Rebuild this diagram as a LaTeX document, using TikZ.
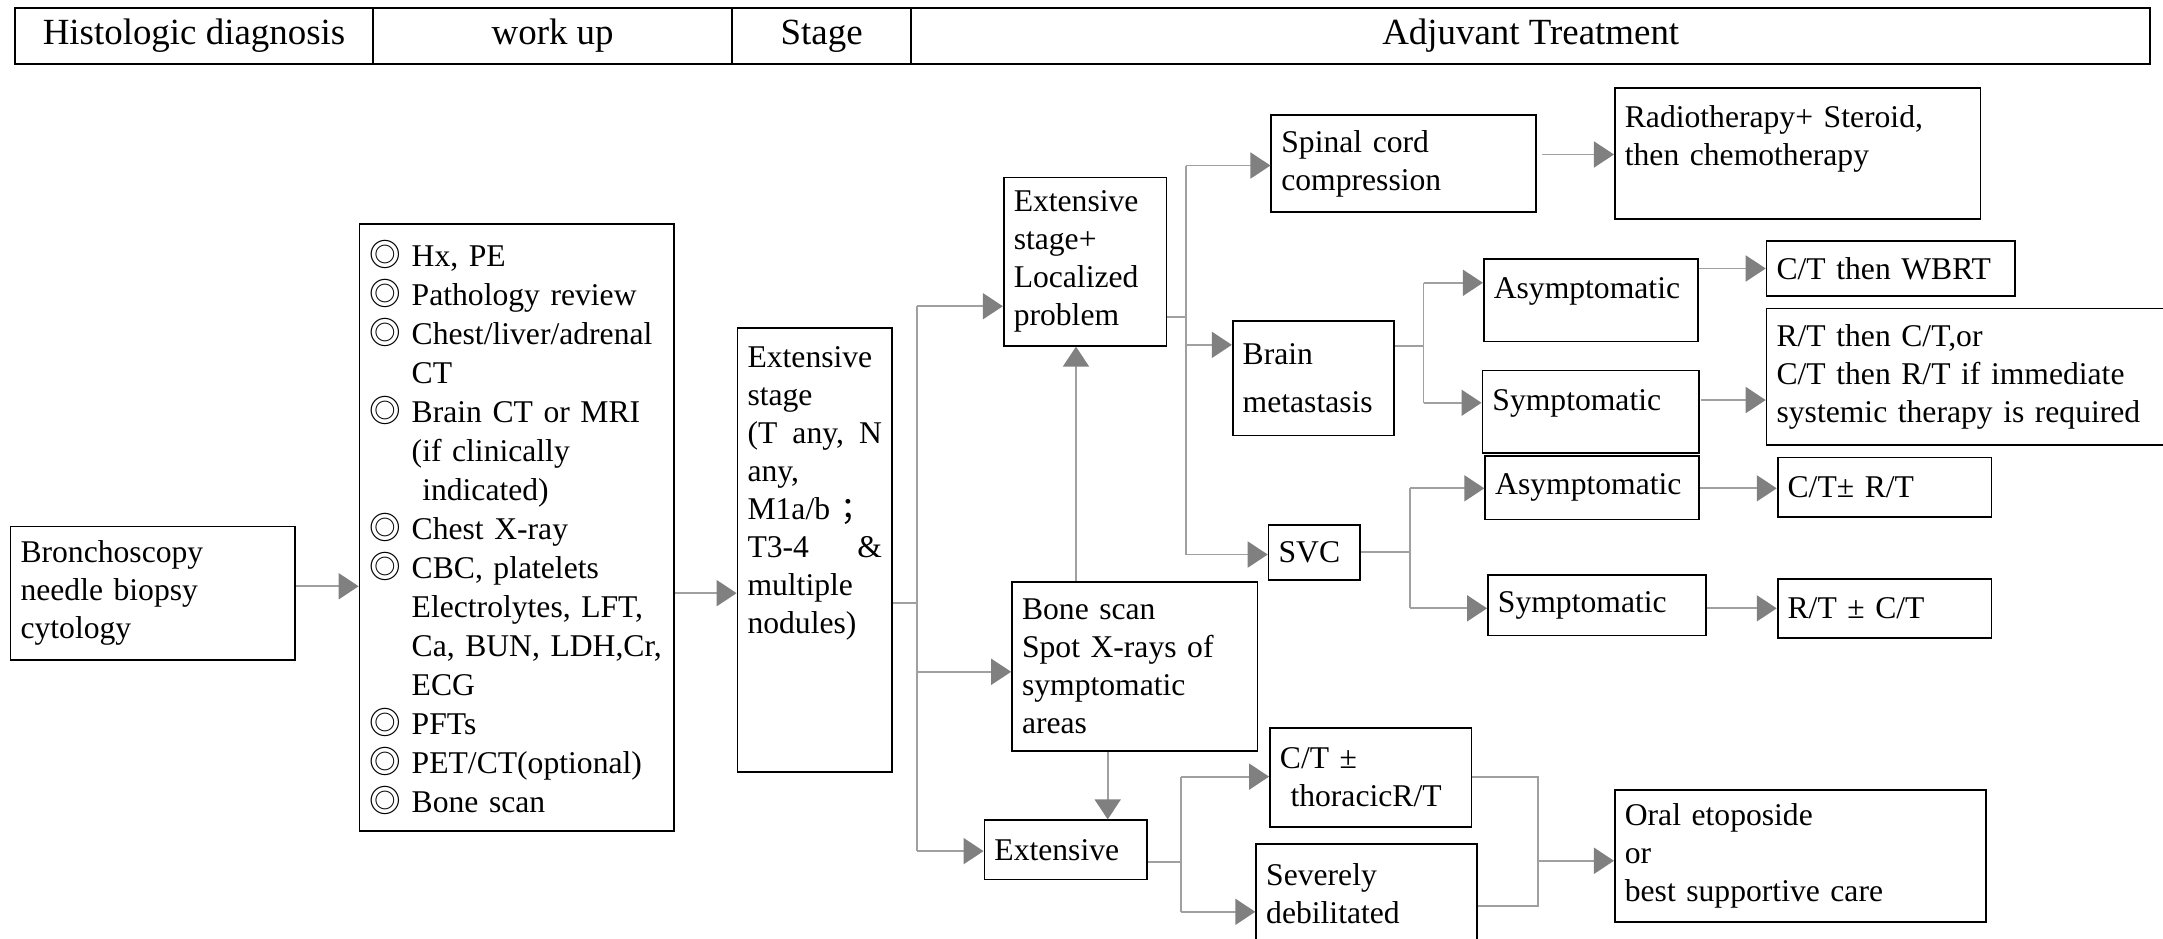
\documentclass[tikz,border=0pt]{standalone}
\usepackage{fontspec}
\setmainfont{Liberation Serif}
\newfontfamily\cjk{Noto Sans CJK SC}
\usetikzlibrary{arrows.meta}

\newdimen\unitpx \unitpx=0.013795cm
\definecolor{linkgray}{HTML}{A0A0A0}
\definecolor{tipgray}{HTML}{808080}
\newcommand{\bodyfont}{\fontsize{9}{10.8}\selectfont}
\newcommand{\headfont}{\fontsize{10.5}{12}\selectfont}
\newcommand{\bul}{{\cjk ◎}\ }
\newcommand{\nobul}{\hphantom{{\cjk ◎}\ }}

\tikzset{
  box/.style 2 args={draw, line width=0.5pt, anchor=north west, inner xsep=0.1cm, inner ysep=0pt,
    text width={#1*\unitpx-0.2cm}, minimum height={#2*\unitpx}, align=left},
  head/.style={draw, line width=0.5pt, anchor=north west, inner sep=0pt,
    minimum width={#1*\unitpx}, minimum height={41*\unitpx}, font=\headfont},
  link/.style={draw=linkgray, line width=0.5pt},
  arr/.style={link, -{Triangle[length=0.2cm, width=0.26cm, color=tipgray]}},
}

\begin{document}
\begin{tikzpicture}[x=0.013795cm, y=-0.013795cm, font=\bodyfont]
    \useasboundingbox (0,0) rectangle (1568,680);

    \node[head=260] (hdiag) at (10,5) {Histologic diagnosis};
    \node[head=260] (hwork) at (270,5) {work up};
    \node[head=130] (hstage) at (530,5) {Stage};
    \node[head=898] (htreat) at (660,5) {Adjuvant Treatment};

    \node[box={206}{97}] (bron) at (7,381) {Bronchoscopy\\needle biopsy\\cytology};
    \node[box={228}{440}, font=\fontsize{9}{11.1}\selectfont] (work) at (260,162) {%
      \bul Hx, PE\\
      \bul Pathology review\\
      \bul Chest/liver/adrenal\\
      \nobul CT\\
      \bul Brain CT or MRI\\
      \nobul (if clinically\\
      \nobul\ indicated)\\
      \bul Chest X-ray\\
      \bul CBC, platelets\\
      \nobul Electrolytes, LFT,\\
      \nobul Ca, BUN, LDH,Cr,\\
      \nobul ECG\\
      \bul PFTs\\
      \bul PET/CT(optional)\\
      \bul Bone scan};
    \node[box={112}{322}, text height=29*\unitpx, text depth=293*\unitpx] (stage) at (534,237) {%
      Extensive\\stage\\(T \hfill any, \hfill N\\any,\\M1a/b {\cjk ；}\\T3-4 \hfill \&\\multiple\\nodules)};

    \node[box={118}{122}] (loc) at (727,128) {Extensive\\stage+\\Localized\\problem};
    \node[box={178}{123}] (bone) at (733,421) {Bone scan\\Spot X-rays of\\symptomatic\\areas};
    \node[box={118}{43}] (ext) at (713,594) {Extensive};

    \node[box={192}{70}] (spinal) at (921,83) {Spinal cord\\compression};
    \node[box={265}{95}, text height=29*\unitpx, text depth=66*\unitpx] (radio) at (1170,63) {Radiotherapy+ Steroid,\\then chemotherapy};
    \node[box={117}{83}] (brain) at (893,232) {Brain\\[3pt]metastasis};
    \node[box={155}{60}, text height=29*\unitpx, text depth=31*\unitpx] (asy1) at (1075,187) {Asymptomatic};
    \node[box={157}{60}, text height=29*\unitpx, text depth=31*\unitpx] (sym1) at (1074,268) {Symptomatic};
    \node[box={180}{40}] (wbrt) at (1280,174) {C/T then WBRT};
    \node[box={300}{99}] (rtct) at (1280,223) {R/T then C/T,or\\C/T then R/T if immediate\\systemic therapy is required};

    \node[box={66}{40}] (svc) at (919,380) {SVC};
    \node[box={155}{46}] (asy2) at (1076,330) {Asymptomatic};
    \node[box={158}{44}] (sym2) at (1078,416) {Symptomatic};
    \node[box={155}{43}] (ctrt) at (1288,331) {C/T± R/T};
    \node[box={155}{43}] (rtct2) at (1288,419) {R/T ± C/T};

    \node[box={146}{72}] (thor) at (920,527) {C/T ±\\\ thoracicR/T};
    \node[box={160}{72}] (sev) at (910,611) {Severely\\debilitated};
    \node[box={269}{96}] (oral) at (1170,572) {Oral etoposide\\or\\best supportive care};

    \coordinate (s1) at (665,437);
    \coordinate (t1a) at (665,222);
    \coordinate (t1b) at (665,487);
    \coordinate (t1c) at (665,617);
    \coordinate (up) at (780,0);
    \coordinate (dn) at (803,0);
    \coordinate (l2) at (860,230);
    \coordinate (t2a) at (860,120);
    \coordinate (t2b) at (860,250);
    \coordinate (t2c) at (860,402);
    \coordinate (r1) at (1118,112);
    \coordinate (b0) at (1032,251);
    \coordinate (b1) at (1032,205);
    \coordinate (b2) at (1032,292);
    \coordinate (b3) at (1233,290);
    \coordinate (v0) at (1022,400);
    \coordinate (v1) at (1022,354);
    \coordinate (v2) at (1022,441);
    \coordinate (e0) at (856,625);
    \coordinate (e1) at (856,563);
    \coordinate (e2) at (856,661);
    \coordinate (m0) at (1115,624);
    \coordinate (m1) at (1115,563);
    \coordinate (m2) at (1115,657);

    \draw[arr] (bron.east |- 0,425) -- (work.west |- 0,425);
    \draw[arr] (work.east |- 0,430) -- (stage.west |- 0,430);

    \draw[link] (stage.east |- s1) -- (s1);
    \draw[link] (t1a) -- (t1c);
    \draw[arr] (t1a) -- (t1a -| loc.west);
    \draw[arr] (t1b) -- (t1b -| bone.west);
    \draw[arr] (t1c) -- (t1c -| ext.west);
    \draw[arr] (bone.north -| up) -- (loc.south -| up);
    \draw[arr] (bone.south -| dn) -- (ext.north -| dn);

    \draw[link] (loc.east |- l2) -- (l2);
    \draw[link] (t2a) -- (t2c);
    \draw[arr] (t2a) -- (t2a -| spinal.west);
    \draw[arr] (t2b) -- (t2b -| brain.west);
    \draw[arr] (t2c) -- (t2c -| svc.west);
    \draw[arr] (r1) -- (r1 -| radio.west);

    \draw[link] (brain.east |- b0) -- (b0);
    \draw[link] (b1) -- (b2);
    \draw[arr] (b1) -- (b1 -| asy1.west);
    \draw[arr] (b2) -- (b2 -| sym1.west);
    \draw[arr] (asy1.east |- wbrt.west) -- (wbrt.west);
    \draw[arr] (b3) -- (b3 -| rtct.west);

    \draw[link] (svc.east |- v0) -- (v0);
    \draw[link] (v1) -- (v2);
    \draw[arr] (v1) -- (v1 -| asy2.west);
    \draw[arr] (v2) -- (v2 -| sym2.west);
    \draw[arr] (asy2.east |- v1) -- (v1 -| ctrt.west);
    \draw[arr] (sym2.east |- v2) -- (v2 -| rtct2.west);

    \draw[link] (ext.east |- e0) -- (e0);
    \draw[link] (e1) -- (e2);
    \draw[arr] (e1) -- (e1 -| thor.west);
    \draw[arr] (e2) -- (e2 -| sev.west);
    \draw[link] (thor.east |- m1) -- (m1) -- (m2) -- (sev.east |- m2);
    \draw[arr] (m0) -- (m0 -| oral.west);
\end{tikzpicture}
\end{document}
